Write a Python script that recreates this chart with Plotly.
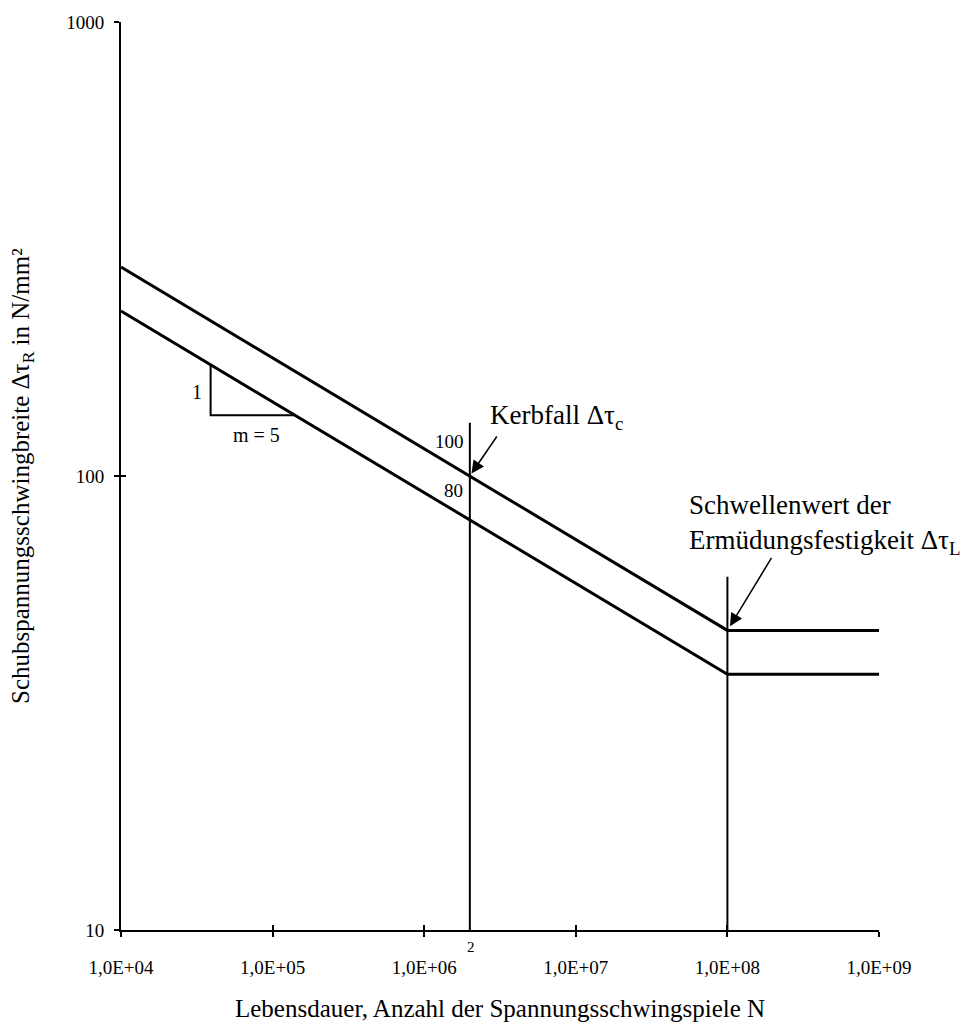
import plotly.graph_objects as go
import math

# ---- data ----
N_upper = [1e4, 2e6, 1e8, 1e9]
S_upper = [288.5, 100.0, 45.7, 45.7]      # Kerbfall 100
N_lower = [1e4, 2e6, 1e8, 1e9]
S_lower = [230.8, 80.0, 36.6, 36.6]       # Kerbfall 80

vline1_N = [2e6, 2e6]
vline1_S = [10, 131]
vline2_N = [1e8, 1e8]
vline2_S = [10, 60]

tri_N = [3.9e4, 3.9e4, 1.4e5]
tri_S = [175.8, 136.0, 136.0]

x_tickvals = [1e4, 1e5, 1e6, 1e7, 1e8, 1e9]
x_ticktext = ["1,0E+04", "1,0E+05", "1,0E+06", "1,0E+07", "1,0E+08", "1,0E+09"]
y_tickvals = [10, 100, 1000]
y_ticktext = ["10", "100", "1000"]

FONT = "Liberation Serif, Times New Roman, serif"
BLACK = "#000000"

fig = go.Figure()
fig.add_trace(go.Scatter(x=N_upper, y=S_upper, mode="lines",
                         line=dict(color=BLACK, width=3), hoverinfo="skip"))
fig.add_trace(go.Scatter(x=N_lower, y=S_lower, mode="lines",
                         line=dict(color=BLACK, width=3), hoverinfo="skip"))
fig.add_trace(go.Scatter(x=vline1_N, y=vline1_S, mode="lines",
                         line=dict(color=BLACK, width=2), hoverinfo="skip"))
fig.add_trace(go.Scatter(x=vline2_N, y=vline2_S, mode="lines",
                         line=dict(color=BLACK, width=2), hoverinfo="skip"))
fig.add_trace(go.Scatter(x=tri_N, y=tri_S, mode="lines",
                         line=dict(color=BLACK, width=2), hoverinfo="skip"))
# invisible trace for the overlay axes (inner half of crossing ticks)
fig.add_trace(go.Scatter(x=[1e4], y=[10], mode="markers", marker=dict(opacity=0),
                         xaxis="x2", yaxis="y2", hoverinfo="skip"))

axis_common = dict(showgrid=False, zeroline=False)
fig.update_layout(
    width=965, height=1028,
    margin=dict(l=121, r=86, t=18, b=98),
    paper_bgcolor="white", plot_bgcolor="white",
    showlegend=False,
    font=dict(family=FONT, color=BLACK),
    xaxis=dict(type="log", range=[4, 9], tickvals=x_tickvals, ticktext=x_ticktext,
               ticks="outside", ticklen=5, tickwidth=2, tickcolor=BLACK,
               showline=True, linewidth=2, linecolor=BLACK,
               tickfont=dict(size=19, family=FONT, color=BLACK),
               ticklabelstandoff=14, **axis_common),
    yaxis=dict(type="log", range=[1, 3], tickvals=y_tickvals, ticktext=y_ticktext,
               ticks="outside", ticklen=5, tickwidth=2, tickcolor=BLACK,
               showline=True, linewidth=2, linecolor=BLACK,
               tickfont=dict(size=19, family=FONT, color=BLACK),
               ticklabelstandoff=6, **axis_common),
    xaxis2=dict(type="log", range=[4, 9], tickvals=x_tickvals, overlaying="x",
                ticks="inside", ticklen=5, tickwidth=2, tickcolor=BLACK,
                showticklabels=False, showline=False, anchor="y2", side="bottom",
                **axis_common),
    yaxis2=dict(type="log", range=[1, 3], tickvals=y_tickvals, overlaying="y",
                ticks="inside", ticklen=5, tickwidth=2, tickcolor=BLACK,
                showticklabels=False, showline=False, anchor="x2", side="left",
                **axis_common),
)

ann = []
# axis titles
ann.append(dict(text="Lebensdauer, Anzahl der Spannungsschwingspiele N",
                xref="paper", yref="paper", x=0.5, y=0, xanchor="center", yanchor="middle",
                yshift=-78, showarrow=False, font=dict(size=25, family=FONT, color=BLACK)))
ann.append(dict(text="Schubspannungsschwingbreite Δτ<sub>R</sub> in N/mm²",
                xref="paper", yref="paper", x=0, y=0.5, xanchor="center", yanchor="middle",
                xshift=-99, textangle=-90, showarrow=False,
                font=dict(size=25, family=FONT, color=BLACK)))
# arrows
ann.append(dict(x=math.log10(2e6), y=math.log10(100), xref="x", yref="y", text="",
                showarrow=True, arrowhead=2, arrowsize=1.7, arrowwidth=1.5, arrowcolor=BLACK,
                ax=28, ay=-41, standoff=3))
ann.append(dict(x=math.log10(1e8), y=math.log10(45.7), xref="x", yref="y", text="",
                showarrow=True, arrowhead=2, arrowsize=1.7, arrowwidth=1.5, arrowcolor=BLACK,
                ax=45, ay=-74, standoff=5))
# texts
ann.append(dict(text="Kerbfall Δτ<sub>c</sub>", x=6.421, y=2.129, xref="x", yref="y",
                xanchor="left", yanchor="middle", showarrow=False,
                font=dict(size=27, family=FONT, color=BLACK)))
ann.append(dict(text="Schwellenwert der<br>Ermüdungsfestigkeit Δτ<sub>L</sub>",
                x=7.733, y=1.893, xref="x", yref="y", xanchor="left", yanchor="middle",
                align="left", showarrow=False, font=dict(size=27, family=FONT, color=BLACK)))
ann.append(dict(text="100", x=6.164, y=2.075, xref="x", yref="y", showarrow=False,
                font=dict(size=19, family=FONT, color=BLACK)))
ann.append(dict(text="80", x=6.190, y=1.969, xref="x", yref="y", showarrow=False,
                font=dict(size=19, family=FONT, color=BLACK)))
ann.append(dict(text="1", x=4.501, y=2.184, xref="x", yref="y", showarrow=False,
                font=dict(size=20, family=FONT, color=BLACK)))
ann.append(dict(text="m = 5", x=4.891, y=2.090, xref="x", yref="y", showarrow=False,
                font=dict(size=20, family=FONT, color=BLACK)))
ann.append(dict(text="2", x=math.log10(2e6) + 0.005, y=0, xref="x", yref="paper",
                yanchor="middle", yshift=-17, showarrow=False,
                font=dict(size=15, family=FONT, color=BLACK)))
fig.update_layout(annotations=ann)

fig.write_html("out.html")
